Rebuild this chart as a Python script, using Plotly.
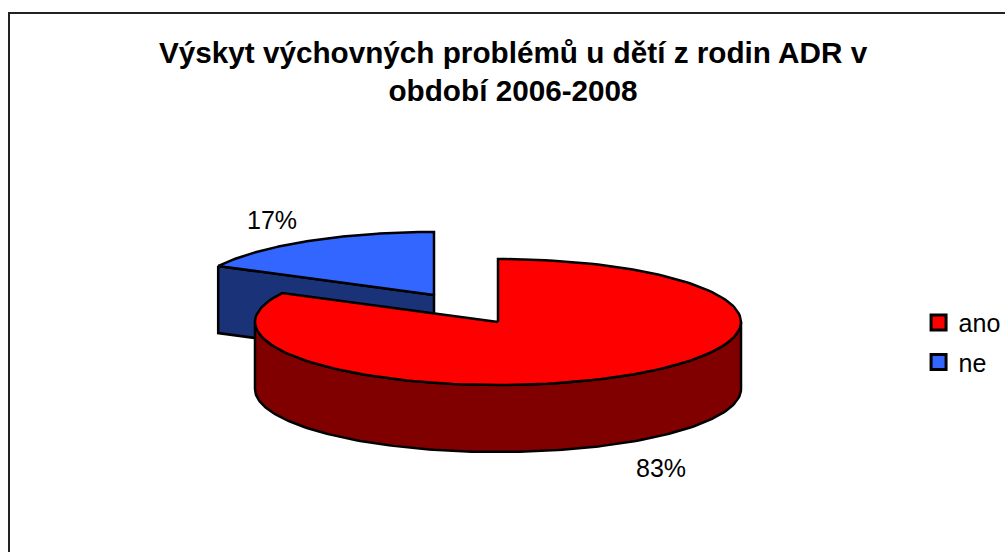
import numpy as np
import plotly.graph_objects as go

categories = ["ano", "ne"]
values = [82.6, 17.4]
title_lines = ["Výskyt výchovných problémů u dětí z rodin ADR v", "období 2006-2008"]

TOP = {"ano": "#ff0000", "ne": "#3366ff"}
SIDE = {"ano": "#800000", "ne": "#1a3278"}
RX, RY, DEPTH = 243, 63, 67
CENTER = {"ano": (498, 322), "ne": (434, 295)}
LABEL_POS = {"ano": (661, 468), "ne": (272, 220)}

total = sum(values)
fracs = [v / total for v in values]
spans = {}
start = 0.0
for c, f in zip(categories, fracs):
    spans[c] = (start, start + 2 * np.pi * f)
    start += 2 * np.pi * f


def rim(c, a0, a1, dy=0, n=160):
    t = np.linspace(a0, a1, n)
    cx, cy = CENTER[c]
    return cx + RX * np.sin(t), cy - RY * np.cos(t) + dy


def poly(xs, ys, color, name):
    return go.Scatter(x=list(xs), y=list(ys), mode="lines", fill="toself",
                      fillcolor=color, line=dict(color="black", width=2.5),
                      hoverinfo="skip", showlegend=False, name=name)


fig = go.Figure()

# exploded "ne" slice: cut face first, then top
c = "ne"
a0, a1 = spans[c]
cx, cy = CENTER[c]
ex, ey = rim(c, a0, a0, n=1)
fig.add_trace(poly([ex[0], cx, cx, ex[0], ex[0]],
                   [ey[0], cy, cy + DEPTH, ey[0] + DEPTH, ey[0]], SIDE[c], c))
x, y = rim(c, a0, a1)
fig.add_trace(poly(np.r_[cx, x, cx], np.r_[cy, y, cy], TOP[c], c))

# "ano" slice: outer wall on the near half, then top
c = "ano"
a0, a1 = spans[c]
cx, cy = CENTER[c]
xw, yw = rim(c, np.pi / 2, 3 * np.pi / 2)
xb, yb = rim(c, 3 * np.pi / 2, np.pi / 2, dy=DEPTH)
fig.add_trace(poly(np.r_[xw, xb, xw[0]], np.r_[yw, yb, yw[0]], SIDE[c], c))
x, y = rim(c, a0, a1)
fig.add_trace(poly(np.r_[cx, x, cx], np.r_[cy, y, cy], TOP[c], c))

# percentage labels
for c, v in zip(categories, values):
    fig.add_annotation(x=LABEL_POS[c][0], y=LABEL_POS[c][1], text=f"{round(v)}%",
                       showarrow=False, font=dict(size=25, color="black"))

# legend entries
for c in categories:
    fig.add_trace(go.Scatter(x=[None], y=[None], mode="markers", name=c, legendgroup=c,
                             marker=dict(symbol="square", size=15, color=TOP[c],
                                         line=dict(color="black", width=3))))

fig.update_layout(
    width=1005, height=552,
    margin=dict(l=0, r=0, t=0, b=0, autoexpand=False),
    paper_bgcolor="white", plot_bgcolor="white",
    font=dict(family="Liberation Sans, Arial, sans-serif", color="black"),
    xaxis=dict(visible=False, range=[0, 1005], fixedrange=True),
    yaxis=dict(visible=False, range=[552, 0], fixedrange=True),
    showlegend=True,
    legend=dict(x=0.914, y=0.38, xanchor="left", yanchor="middle",
                font=dict(size=25), bgcolor="rgba(0,0,0,0)",
                tracegroupgap=4),
    title=dict(text="<b>" + "<br>".join(title_lines) + "</b>",
               x=0.5105, xanchor="center", y=0.8863, yanchor="bottom",
               font=dict(size=29.7, color="black")),
    shapes=[dict(type="rect", xref="x", yref="y", x0=9, y0=13, x1=1010, y1=560,
                 line=dict(color="#222222", width=2), fillcolor="rgba(0,0,0,0)",
                 layer="below")],
)

fig.write_html("out.html", config={"displayModeBar": False},
               post_script="document.body.style.margin='0';document.body.style.overflow='hidden';")
